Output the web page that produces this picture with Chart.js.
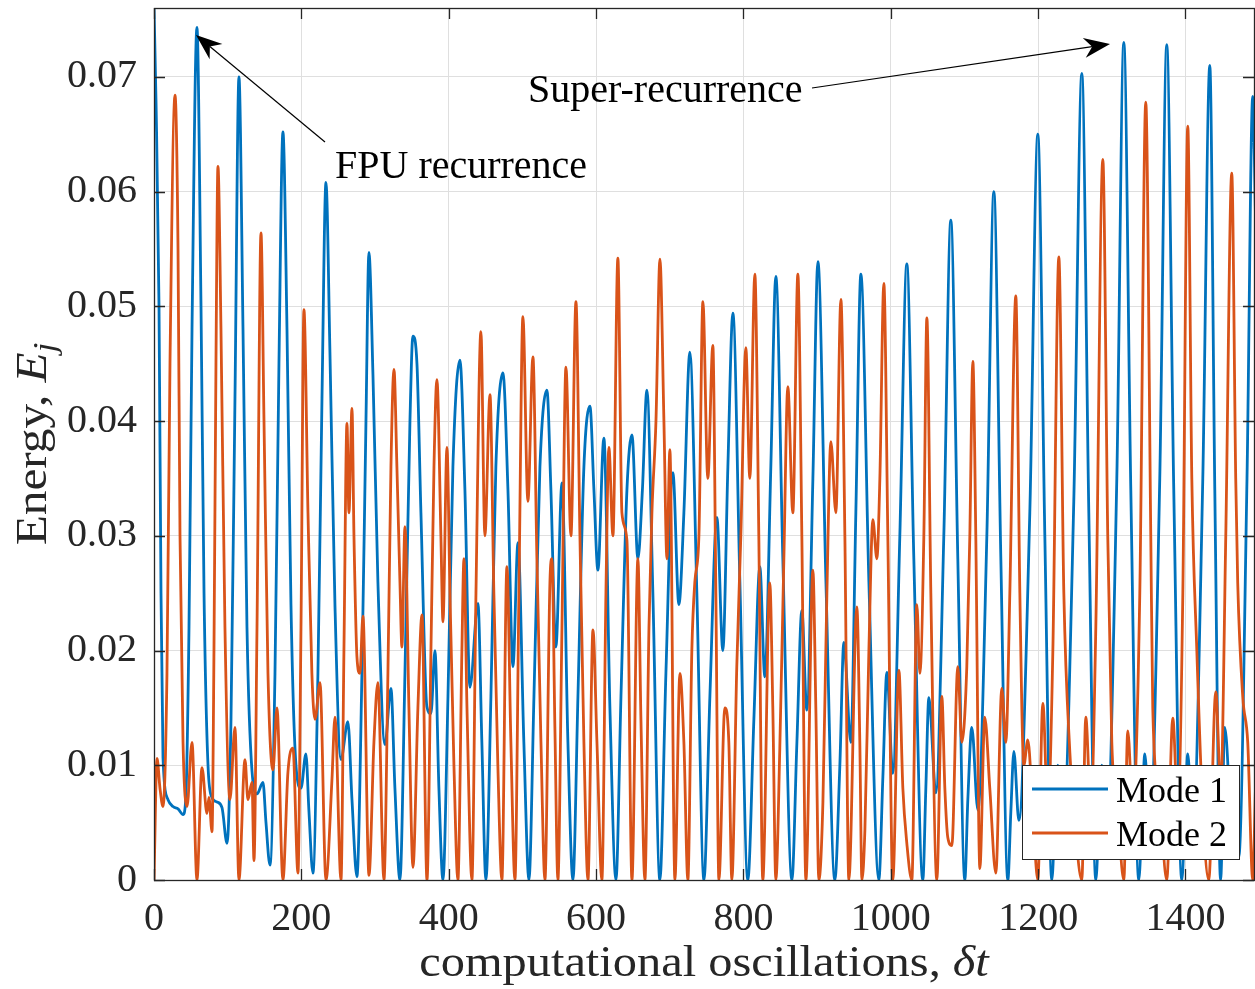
<!DOCTYPE html>
<html>
<head>
<meta charset="utf-8">
<script src="https://cdn.jsdelivr.net/npm/chart.js@4.4.1/dist/chart.umd.min.js"></script>
<style>
  html, body { margin: 0; padding: 0; background: #fff; overflow: hidden; }
  canvas { display: block; }
</style>
</head>
<body>
<canvas id="energyChart" width="1255" height="989"></canvas>
<script>
// modal energies of the FPU chain, read per oscillation cycle
let mode1X = [
  0, 2.7, 6.8, 9.5, 12.2, 19.0, 25.8, 32.6, 39.4, 43.4, 47.5, 51.6, 58.3,
  63.8, 67.9, 73.3, 78.7, 85.5, 92.3, 99.1, 104.5, 109.9, 115.3,
  120.8, 126.2, 133.0, 139.8, 147.9, 152.0, 157.4, 164.2, 169.6, 175.0,
  180.5, 185.9, 192.7, 199.5, 206.2, 210.3, 215.7, 222.5, 228.0, 233.4,
  238.8, 245.6, 253.7, 263.2, 268.7, 275.4, 282.2, 287.7, 291.7,
  297.2, 303.9, 313.4, 321.6, 327.0, 333.8, 340.6, 347.4, 351.4,
  356.9, 362.3, 370.4, 375.9, 381.3, 386.7, 392.2,
  399.0, 405.7, 415.2, 422.0, 428.8, 439.7, 445.0, 450.5,
  457.3, 464.0, 473.6, 480.4, 487.2, 494.0, 502.0, 508.9,
  515.7, 523.8, 533.3, 538.7, 545.5, 553.7, 561.8, 568.6,
  575.4, 583.5, 591.7, 597.1, 602.5, 610.6, 618.8, 627.0,
  633.8, 641.9, 648.7, 656.8, 662.9, 669.0, 677.1, 686.6,
  694.8, 704.3, 712.4, 719.2, 727.3, 736.8, 746.4,
  754.5, 764.0, 772.1, 778.9, 785.7, 795.2, 806.0,
  814.2, 822.3, 829.1, 837.2, 844.0, 853.5, 865.8,
  872.6, 879.3, 886.1, 894.3, 901.1, 912.0, 924.1,
  930.9, 936.3, 945.8, 952.6, 959.4, 970.3, 983.8,
  989.3, 994.7, 1002.8, 1012.3, 1021.8, 1031.3, 1043.5,
  1047.6, 1051.7, 1061.2, 1072.0, 1081.5, 1091.0, 1100.5,
  1104.6, 1110.0, 1118.2, 1130.4, 1139.9, 1149.4, 1158.9,
  1163.0, 1167.1, 1173.8, 1188.7, 1199.6, 1209.1, 1218.6,
  1222.6, 1226.7, 1233.5, 1248.4, 1259.3, 1268.8, 1278.3,
  1282.4, 1286.4, 1293.2, 1306.8, 1316.3, 1325.8, 1336.6,
  1340.7, 1344.8, 1351.6, 1365.1, 1374.6, 1384.1, 1395.0,
  1399.0, 1403.1, 1409.9, 1423.5, 1433.0, 1439.8, 1447.7,
  1453.3, 1462.8, 1472.3, 1483.5, 1491.3, 1495.0
];
let mode1Y = [
  0.0760, 0.068, 0.050, 0.025, 0.0107, 0.0070, 0.0064, 0.0062, 0.0057, 0.0075, 0.022, 0.048, 0.0743,
  0.050, 0.025, 0.010, 0.0072, 0.0068, 0.0063, 0.0032, 0.014, 0.042, 0.0700,
  0.048, 0.022, 0.0095, 0.0075, 0.0085, 0.005, 0.0013, 0.018, 0.045, 0.0652,
  0.048, 0.024, 0.010, 0.0080, 0.0110, 0.006, 0.0006, 0.018, 0.042, 0.0608,
  0.046, 0.024, 0.0105, 0.0138, 0.007, 0.0003, 0.018, 0.040, 0.0547,
  0.044, 0.026, 0.0118, 0.0167, 0.008, 0.0, 0.018, 0.040, 0.0474,
  0.0450, 0.032, 0.0151, 0.0145, 0.0200, 0.008, 0.0,
  0.016, 0.036, 0.0453, 0.034, 0.0168, 0.0241, 0.012, 0,
  0.016, 0.036, 0.0442, 0.034, 0.0186, 0.0294, 0.012, 0,
  0.016, 0.036, 0.0427, 0.034, 0.0203, 0.0346, 0.012, 0,
  0.016, 0.036, 0.0413, 0.034, 0.027, 0.0385, 0.015, 0,
  0.016, 0.034, 0.0388, 0.028, 0.034, 0.0427, 0.025, 0,
  0.018, 0.0355, 0.024, 0.032, 0.046, 0.025, 0,
  0.016, 0.0316, 0.020, 0.036, 0.0494, 0.026, 0,
  0.014, 0.0273, 0.0177, 0.036, 0.0526, 0.028, 0,
  0.012, 0.0235, 0.0148, 0.035, 0.0539, 0.026, 0,
  0.010, 0.0207, 0.012, 0.032, 0.0528, 0.026, 0,
  0.009, 0.0181, 0.0093, 0.030, 0.0537, 0.028, 0,
  0.008, 0.0159, 0.0076, 0.030, 0.0575, 0.028, 0,
  0.007, 0.0133, 0.0061, 0.030, 0.060, 0.028, 0,
  0.006, 0.0112, 0.0052, 0.032, 0.065, 0.030, 0,
  0.005, 0.010, 0.004, 0.033, 0.0703, 0.032, 0,
  0.005, 0.010, 0.004, 0.035, 0.073, 0.034, 0,
  0.005, 0.011, 0.004, 0.035, 0.0728, 0.034, 0,
  0.005, 0.011, 0.004, 0.035, 0.071, 0.034, 0,
  0.0133, 0.004, 0.002, 0.035, 0.0683, 0.058
];

let mode2X = [
  0, 4.1, 8.1, 12.2, 17.6, 21.7, 28.5, 32.6, 35.3, 39.4, 44.8, 51.6, 58.3,
  65.1, 71.9, 74.6, 78.7, 81.4, 84.1, 86.8, 90.9, 96.3, 103.1, 109.9, 115.3,
  123.5, 127.5, 133.0, 135.7, 139.8, 145.2, 149.3, 154.7, 161.5, 166.9, 175.0,
  181.8, 188.6, 195.4, 199.5, 203.5, 209.0, 214.3, 218.5, 225.3, 233.4,
  241.5, 245.6, 253.8, 257.8, 261.9, 264.6, 268.7, 271.4, 275.5, 279.5, 283.6, 291.8,
  298.5, 303.9, 312.1, 317.5, 321.6, 325.7, 329.7, 333.8, 336.5, 340.6, 346.0, 351.5,
  358.2, 363.7, 370.5, 375.9, 380.0, 384.0, 389.4, 392.2, 397.6, 401.7, 407.1, 412.5,
  417.9, 420.7, 424.8, 431.5, 437.0, 443.7, 449.1, 456.0, 461.3, 466.7, 472.2,
  479.0, 484.4, 489.9, 495.3, 500.7, 507.5, 514.3, 519.7, 525.2, 530.6,
  537.4, 540.1, 544.2, 548.2, 553.7, 559.1, 565.9, 572.7, 578.1, 583.5, 589.0,
  595.8, 601.2, 607.9, 613.4, 617.4, 622.9, 629.6, 635.1, 641.9, 648.7,
  656.8, 660.9, 666.3, 671.8, 675.8, 681.3, 686.7, 692.1, 696.2, 700.2, 707.0,
  713.8, 719.2, 724.6, 730.0, 734.1, 739.6, 745.0, 751.7, 758.5, 762.6, 766.7,
  774.8, 780.2, 784.3, 791.0, 796.5, 803.3, 808.7, 815.5, 820.9, 826.3,
  835.8, 839.9, 844.0, 849.4, 854.9, 860.3, 867.1, 873.9, 879.3, 884.8,
  894.3, 898.3, 902.4, 907.9, 913.3, 918.7, 925.5, 932.3, 937.7, 943.1,
  954.0, 958.0, 960.8, 964.9, 970.3, 975.7, 981.1, 985.2, 990.6, 996.0, 1002.8,
  1011.0, 1016.4, 1021.8, 1028.6, 1035.4, 1039.5, 1044.9, 1049.0, 1054.4, 1062.5,
  1069.3, 1073.4, 1077.4, 1082.9, 1091.0, 1096.4, 1103.2, 1107.3, 1111.4, 1115.4, 1120.9,
  1127.6, 1134.4, 1142.6, 1150.7, 1156.2, 1161.6, 1169.7, 1175.2, 1180.6, 1186.0, 1192.8, 1199.6,
  1206.4, 1213.2, 1220.0, 1228.1, 1234.9, 1243.0, 1249.8, 1259.3,
  1264.7, 1271.5, 1278.3, 1287.8, 1294.5, 1300.0, 1308.1, 1316.3,
  1321.7, 1328.5, 1338.0, 1346.1, 1352.9, 1355.6, 1365.1, 1374.6,
  1382.8, 1389.6, 1396.4, 1403.1, 1408.6, 1415.4, 1423.5, 1431.6,
  1441.1, 1447.9, 1454.7, 1462.8, 1468.2, 1470.9, 1477.7, 1484.5, 1491.3, 1495.0
];
let mode2Y = [
  0, 0.0106, 0.0080, 0.0064, 0.018, 0.045, 0.0684, 0.055, 0.030, 0.012, 0.0064, 0.0120, 0,
  0.0098, 0.0058, 0.0072, 0.0042, 0.020, 0.045, 0.0622, 0.048, 0.022, 0.0070, 0.0133, 0,
  0.0105, 0.0070, 0.0085, 0.0017, 0.022, 0.0564, 0.040, 0.018, 0.0096, 0.0150, 0,
  0.0094, 0.0115, 0.0006, 0.022, 0.0497, 0.032, 0.018, 0.0140, 0.0172, 0,
  0.0087, 0.0142, 0, 0.020, 0.0398, 0.032, 0.0411, 0.030, 0.0194, 0.018, 0.0230, 0.0004,
  0.012, 0.0172, 0, 0.018, 0.036, 0.0445, 0.036, 0.026, 0.0203, 0.0308, 0.015, 0.0011,
  0.015, 0.0231, 0, 0.020, 0.036, 0.0436, 0.030, 0.0225, 0.0377, 0.025, 0.010, 0,
  0.020, 0.028, 0.015, 0, 0.025, 0.0478, 0.030, 0.0423, 0.025, 0.010, 0,
  0.0273, 0.012, 0, 0.025, 0.0491, 0.033, 0.0456, 0.028, 0.012, 0,
  0.026, 0.028, 0.013, 0, 0.022, 0.0447, 0.030, 0.0504, 0.030, 0.012, 0,
  0.0218, 0.012, 0, 0.025, 0.0377, 0.030, 0.0542, 0.032, 0.0296, 0,
  0.028, 0.014, 0, 0.022, 0.032, 0.040, 0.0541, 0.040, 0.028, 0.0375, 0,
  0.018, 0.012, 0, 0.020, 0.026, 0.030, 0.0504, 0.035, 0.0466, 0.025, 0,
  0.015, 0.012, 0, 0.0186, 0.030, 0.0464, 0.035, 0.0528, 0.030, 0,
  0.0259, 0.015, 0, 0.0115, 0.028, 0.0430, 0.032, 0.0528, 0.030, 0,
  0.027, 0.015, 0, 0.0068, 0.025, 0.0382, 0.032, 0.0506, 0.030, 0,
  0.0238, 0.012, 0, 0.0044, 0.020, 0.0314, 0.028, 0.035, 0.0520, 0.030, 0,
  0.0183, 0.008, 0.0032, 0, 0.024, 0.018, 0.030, 0.0490, 0.025, 0,
  0.0160, 0.008, 0.0037, 0.003, 0.0186, 0.012, 0.0186, 0.030, 0.0452, 0.030, 0.001,
  0.0142, 0.008, 0.0006, 0.0167, 0.012, 0.025, 0.0509, 0.025, 0.010, 0.0122, 0.006, 0,
  0.0154, 0.006, 0.020, 0.0543, 0.025, 0.0112, 0.005, 0,
  0.0142, 0.006, 0.022, 0.0628, 0.030, 0.012, 0.006, 0,
  0.013, 0.006, 0.025, 0.0678, 0.030, 0.015, 0.007, 0,
  0.0141, 0.006, 0.025, 0.0657, 0.035, 0.020, 0.006, 0,
  0.0164, 0.008, 0.030, 0.0616, 0.035, 0.0259, 0.016, 0.012, 0, 0.008
];

let seriesNames = ['Mode 1', 'Mode 2'];
let seriesColors = ['#0072BD', '#D95319'];
let xTicks = [0, 200, 400, 600, 800, 1000, 1200, 1400];
let yTicks = [0, 0.01, 0.02, 0.03, 0.04, 0.05, 0.06, 0.07];

const serif = "'Liberation Serif', 'Times New Roman', serif";
const axisInk = '#262626';

function toPoints(xs, ys) {
  return xs.map((x, i) => ({ x: x, y: ys[i] }));
}

function fontOf(part, size) {
  let s = part.sub ? size * 0.7 : size;
  return (part.it ? 'italic ' : '') + s + 'px ' + serif;
}

// text made of plain / italic / subscript pieces, centred on cx
function drawRich(ctx, parts, size, cx, baseY, stretch) {
  let w = 0;
  parts.forEach(p => { ctx.font = fontOf(p, size); w += ctx.measureText(p.t).width; });
  ctx.save();
  ctx.translate(cx - w * stretch / 2, baseY);
  ctx.scale(stretch, 1);
  let x = 0;
  parts.forEach(p => {
    ctx.font = fontOf(p, size);
    ctx.fillText(p.t, x, p.sub ? size * 0.2 : 0);
    x += ctx.measureText(p.t).width;
  });
  ctx.restore();
}

function arrow(ctx, x0, y0, x1, y1) {
  let dx = x1 - x0, dy = y1 - y0, len = Math.hypot(dx, dy);
  let ux = dx / len, uy = dy / len, nx = -uy, ny = ux;
  ctx.beginPath();
  ctx.moveTo(x0, y0);
  ctx.lineTo(x1 - ux * 18, y1 - uy * 18);
  ctx.stroke();
  ctx.beginPath();
  ctx.moveTo(x1, y1);
  ctx.lineTo(x1 - ux * 26 + nx * 10, y1 - uy * 26 + ny * 10);
  ctx.lineTo(x1 - ux * 18, y1 - uy * 18);
  ctx.lineTo(x1 - ux * 26 - nx * 10, y1 - uy * 26 - ny * 10);
  ctx.closePath();
  ctx.fill();
}

// axes box, inward ticks, titles, legend and annotations
const framePlugin = {
  id: 'frame',
  afterDraw(chart) {
    const ctx = chart.ctx;
    const a = chart.chartArea;
    const xs = chart.scales.x, ys = chart.scales.y;
    ctx.save();

    ctx.strokeStyle = axisInk;
    ctx.lineWidth = 1.3;
    ctx.strokeRect(a.left + 0.5, a.top + 0.5, a.right - a.left, a.bottom - a.top);
    ctx.beginPath();
    yTicks.forEach(v => {
      let y = Math.round(ys.getPixelForValue(v)) + 0.5;
      ctx.moveTo(a.left, y); ctx.lineTo(a.left + 11, y);
      ctx.moveTo(a.right, y); ctx.lineTo(a.right - 11, y);
    });
    xTicks.forEach(v => {
      let x = Math.round(xs.getPixelForValue(v)) + 0.5;
      ctx.moveTo(x, a.bottom); ctx.lineTo(x, a.bottom - 11);
      ctx.moveTo(x, a.top); ctx.lineTo(x, a.top + 11);
    });
    ctx.stroke();

    // axis titles
    ctx.fillStyle = axisInk;
    ctx.textBaseline = 'alphabetic';
    ctx.textAlign = 'left';
    drawRich(ctx, [{ t: 'computational oscillations, ' }, { t: 'δt', it: true }],
      44, (a.left + a.right) / 2, 976, 1.1);
    ctx.save();
    ctx.translate(46, (a.top + a.bottom) / 2);
    ctx.rotate(-Math.PI / 2);
    drawRich(ctx, [{ t: 'Energy, ' }, { t: 'E', it: true }, { t: 'j', it: true, sub: true }],
      44, 0, 0, 1.12);
    ctx.restore();

    // annotations
    ctx.fillStyle = '#000';
    ctx.strokeStyle = '#000';
    ctx.lineWidth = 1.2;
    ctx.font = '40px ' + serif;
    ctx.fillText('FPU recurrence', 335, 178);
    ctx.fillText('Super-recurrence', 528, 102);
    arrow(ctx, 325, 142, 196, 35);
    arrow(ctx, 812, 88, 1110, 44);

    // legend
    let lx = 1022, ly = 765, lw = 217, lh = 94;
    ctx.fillStyle = '#fff';
    ctx.fillRect(lx, ly, lw, lh);
    ctx.strokeStyle = axisInk;
    ctx.lineWidth = 1;
    ctx.strokeRect(lx + 0.5, ly + 0.5, lw, lh);
    ctx.font = '36px ' + serif;
    chart.data.datasets.forEach((ds, i) => {
      let y = ly + 24 + i * 44;
      ctx.strokeStyle = ds.borderColor;
      ctx.lineWidth = 2.8;
      ctx.beginPath();
      ctx.moveTo(lx + 10, y); ctx.lineTo(lx + 86, y);
      ctx.stroke();
      ctx.fillStyle = '#000';
      ctx.fillText(ds.label, lx + 94, y + 13);
    });
    ctx.restore();
  }
};

Chart.defaults.font.family = serif;

const chart = new Chart(document.getElementById('energyChart'), {
  type: 'line',
  data: {
    datasets: [
      {
        label: seriesNames[0],
        data: toPoints(mode1X, mode1Y),
        borderColor: seriesColors[0],
        borderWidth: 2.8,
        pointRadius: 0,
        cubicInterpolationMode: 'monotone',
        order: 1
      },
      {
        label: seriesNames[1],
        data: toPoints(mode2X, mode2Y),
        borderColor: seriesColors[1],
        borderWidth: 2.8,
        pointRadius: 0,
        cubicInterpolationMode: 'monotone',
        order: 0
      }
    ]
  },
  options: {
    responsive: false,
    animation: false,
    devicePixelRatio: 1,
    layout: { padding: { left: 0, right: 1, top: 8, bottom: 0 } },
    plugins: { legend: { display: false }, tooltip: { enabled: false } },
    scales: {
      x: {
        type: 'linear',
        min: 0,
        max: 1493,
        afterFit: s => { s.height = 109; s.paddingLeft = 0; s.paddingRight = 0; },
        afterBuildTicks: s => { s.ticks = xTicks.map(v => ({ value: v })); },
        ticks: {
          color: axisInk,
          font: { size: 40 },
          padding: 15,
          maxRotation: 0,
          autoSkip: false,
          callback: v => String(v)
        },
        grid: { color: '#dfdfdf', lineWidth: 1, drawTicks: false },
        border: { display: false }
      },
      y: {
        type: 'linear',
        min: 0,
        max: 0.076,
        afterFit: s => { s.width = 154; s.paddingTop = 0; s.paddingBottom = 0; },
        afterBuildTicks: s => { s.ticks = yTicks.map(v => ({ value: v })); },
        ticks: {
          color: axisInk,
          font: { size: 40 },
          padding: 17,
          autoSkip: false,
          callback: v => (v === 0 ? '0' : v.toFixed(2))
        },
        grid: { color: '#dfdfdf', lineWidth: 1, drawTicks: false },
        border: { display: false }
      }
    }
  },
  plugins: [framePlugin]
});
</script>
</body>
</html>
